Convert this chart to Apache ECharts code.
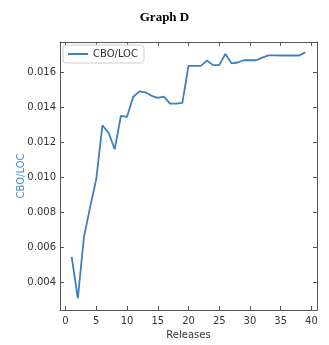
<!DOCTYPE html>
<html>
<head>
<meta charset="utf-8">
<script src="https://cdn.jsdelivr.net/npm/echarts@6/dist/echarts.min.js"></script>
<style>html,body{margin:0;padding:0;background:#fff;}#c{width:329px;height:345px;}</style>
</head>
<body>
<div id="c"></div>
<script>
const releases = [1,2,3,4,5,6,7,8,9,10,11,12,13,14,15,16,17,18,19,20,21,22,23,24,25,26,27,28,29,30,31,32,33,34,35,36,37,38,39];
const cboLoc = [0.00546,0.0031,0.0066,0.0083,0.0099,0.01296,0.01254,0.0116,0.0135,0.01345,0.01458,0.0149,0.01485,0.01465,0.01453,0.0146,0.0142,0.0142,0.01425,0.01636,0.01636,0.01636,0.01666,0.0164,0.0164,0.01704,0.0165,0.01655,0.01668,0.01668,0.01668,0.01683,0.01696,0.01696,0.01695,0.01695,0.01695,0.01695,0.01713];
const xTicks = [0,5,10,15,20,25,30,35,40];
const yTicks = [0.004,0.006,0.008,0.010,0.012,0.014,0.016];
const yTickLabels = ['0.004','0.006','0.008','0.010','0.012','0.014','0.016'];
const seriesName = 'CBO/LOC';

const lineColor = '#3f7fbd';
const frame = '#555';
const tickFont = {fontFamily:'DejaVu Sans', fontSize:10, color:'#333'};
const chart = echarts.init(document.getElementById('c'), null, {renderer:'canvas'});
const data = releases.map((r,i)=>[r,cboLoc[i]]);
const baseX = {type:'value', min:-0.9, max:40.9, splitLine:{show:false},
  axisLine:{show:true, onZero:false, lineStyle:{color:frame,width:1}},
  axisTick:{show:true, inside:true, length:4, customValues:xTicks, lineStyle:{color:frame}}};
const baseY = {type:'value', min:0.00243, max:0.01772, splitLine:{show:false},
  axisLine:{show:true, onZero:false, lineStyle:{color:frame,width:1}},
  axisTick:{show:true, inside:true, length:4, customValues:yTicks, lineStyle:{color:frame}}};
chart.setOption({
  animation:false,
  backgroundColor:'#fff',
  title:{text:'Graph D', left:'center', top:6, textStyle:{fontFamily:'Liberation Serif', fontWeight:'bold', fontSize:13, color:'#000'}},
  grid:{left:60, right:12, top:42, bottom:33},
  legend:{data:[seriesName], left:63, top:45, orient:'vertical', backgroundColor:'#fff', borderColor:'#ccc', borderWidth:1, borderRadius:3, padding:[4,6,4,5],
    icon:'rect', itemWidth:20, itemHeight:2, itemGap:4,
    textStyle:{fontFamily:'DejaVu Sans', fontSize:10, color:'#333'}},
  xAxis:[
    Object.assign({}, baseX, {position:'bottom', name:'Releases', nameLocation:'middle', nameGap:20, nameMoveOverlap:false,
      nameTextStyle:{fontFamily:'DejaVu Sans', fontSize:10, color:'#333'},
      axisLabel:Object.assign({show:true, margin:6, customValues:xTicks}, tickFont)}),
    Object.assign({}, baseX, {position:'top', axisLabel:{show:false}})
  ],
  yAxis:[
    Object.assign({}, baseY, {position:'left', name:'CBO/LOC', nameLocation:'middle', nameGap:34, nameRotate:90, nameMoveOverlap:false,
      nameTextStyle:{fontFamily:'DejaVu Sans', fontSize:10, color:'#4a90d0'},
      axisLabel:Object.assign({show:true, margin:4, customValues:yTicks, formatter:(v)=>{const i=yTicks.findIndex(t=>Math.abs(t-v)<1e-9);return i>=0?yTickLabels[i]:v.toFixed(3);}}, tickFont)}),
    Object.assign({}, baseY, {position:'right', axisLabel:{show:false}})
  ],
  series:[{name:seriesName, type:'line', data:data, showSymbol:false, symbol:'none',
    lineStyle:{color:lineColor, width:1.8}, itemStyle:{color:lineColor}}]
});
</script>
</body>
</html>
